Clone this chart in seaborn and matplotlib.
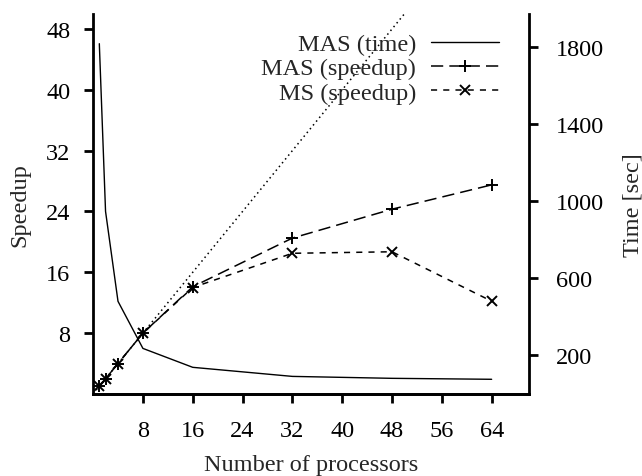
import matplotlib
matplotlib.use("Agg")
import matplotlib.pyplot as plt
import seaborn as sns

# data
procs = [1, 2, 4, 8, 16, 32, 48, 64]
mas_time = [1815, 946, 480, 236, 138, 91, 81, 76]
mas_speedup = [1, 2, 4, 8, 14.1, 20.5, 24.3, 27.5]
ms_speedup = [1, 2, 4, 8, 14.0, 18.5, 18.7, 12.2]
ideal_x = [0, 70]
ideal_y = [0, 70]

x_ticks = [8, 16, 24, 32, 40, 48, 56, 64]
left_ticks = [8, 16, 24, 32, 40, 48]
right_ticks = [200, 600, 1000, 1400, 1800]

sns.set_theme(style="ticks")
plt.rcParams['font.family'] = ['Liberation Serif', 'DejaVu Serif']
fs = 17.5

fig = plt.figure(figsize=(6.42, 4.77), dpi=100)
ax = fig.add_axes([0.145, 0.172, 0.679, 0.797])
ax2 = ax.twinx()

# ideal speedup
sns.lineplot(x=ideal_x, y=ideal_y, ax=ax, color='black', linestyle=(0, (1, 2.2)),
             linewidth=1.1, legend=False)
sns.lineplot(x=procs, y=mas_speedup, ax=ax, color='black', linestyle=(0, (8, 4)),
             linewidth=1.1, marker='+', markersize=9, markeredgewidth=1.4,
             markeredgecolor='black', label='MAS (speedup)', legend=False)
sns.lineplot(x=procs, y=ms_speedup, ax=ax, color='black', linestyle=(0, (4, 4)),
             linewidth=1.1, marker='x', markersize=7, markeredgewidth=1.4,
             markeredgecolor='black', label='MS (speedup)', legend=False)
sns.lineplot(x=procs, y=mas_time, ax=ax2, color='black', linewidth=1.0,
             label='MAS (time)', legend=False)

ax.set_xlim(0, 70)
ax.set_ylim(0, 50)
ax2.set_ylim(0, 1970)
ax.set_xticks(x_ticks)
ax.set_yticks(left_ticks)
ax2.set_yticks(right_ticks)

ax.set_xlabel('Number of processors', fontsize=fs, labelpad=9)
ax.set_ylabel('Speedup', fontsize=fs, labelpad=11)
ax2.set_ylabel('Time [sec]', fontsize=fs, labelpad=13)

for a in (ax, ax2):
    a.spines['top'].set_visible(False)
    for s in a.spines.values():
        s.set_linewidth(2)
        s.set_color('black')
    a.tick_params(width=2, length=6.5, labelsize=fs, colors='black')
ax.spines['right'].set_visible(False)
ax2.spines['left'].set_visible(False)
ax.tick_params(axis='y', pad=10)
ax.tick_params(axis='x', pad=12.5)
ax2.tick_params(axis='y', pad=13)

h1, l1 = ax.get_legend_handles_labels()
h2, l2 = ax2.get_legend_handles_labels()
ax2.legend(h2 + h1, l2 + l1, loc='upper right',
           bbox_to_anchor=(499 / 642, 1 - 34 / 477), bbox_transform=fig.transFigure,
           frameon=False, markerfirst=False, handlelength=2.8, fontsize=fs,
           labelspacing=0.1, handletextpad=0.6, borderpad=0, borderaxespad=0)

fig.savefig('out.png', dpi=100)
